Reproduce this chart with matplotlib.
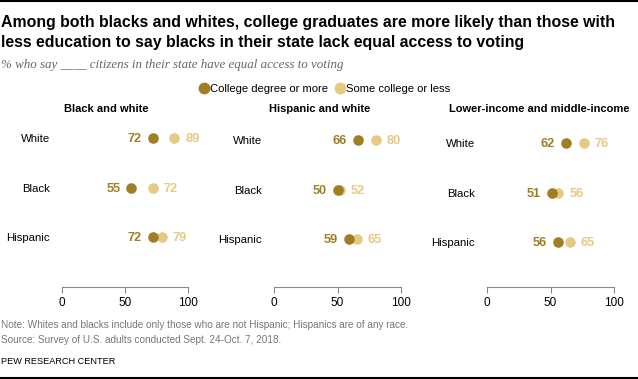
import matplotlib
matplotlib.use('Agg')
import matplotlib.pyplot as plt
from matplotlib.lines import Line2D

# dados
groups = ['White', 'Black', 'Hispanic']
panel_titles = ['Black and white', 'Hispanic and white', 'Lower-income and middle-income']
college = [[72, 55, 72], [66, 50, 59], [62, 51, 56]]
some_college = [[89, 72, 79], [80, 52, 65], [76, 56, 65]]
ticks = [0, 50, 100]

dark = '#A07E22'
light = '#E6CA83'
W, H = 638, 379

plt.rcParams['font.family'] = ['Liberation Sans', 'DejaVu Sans']

fig = plt.figure(figsize=(W / 100, H / 100), dpi=100)

def px(x0, y0, x1, y1):
    # converte coordenadas em pixels (topo-esquerda) para fracao da figura
    return [x0 / W, 1 - y1 / H, (x1 - x0) / W, (y1 - y0) / H]

# posicoes dos paineis (x do 0, x do 100, deslocamento vertical, x do titulo)
panels = [(62, 188, 0, 64), (274, 401, 2, 269), (487, 614, 5, 449)]

for k, (x0, x1, dy, tx) in enumerate(panels):
    ax = fig.add_axes(px(x0, 120, x1, 287))
    ypos = [2, 1, 0]
    ax.scatter(college[k], ypos, s=58, color=dark, zorder=3, linewidths=0)
    ax.scatter(some_college[k], ypos, s=58, color=light, zorder=2, linewidths=0)
    for c, s, y in zip(college[k], some_college[k], ypos):
        ax.annotate(str(c), (c, y), xytext=(-8, -0.5), textcoords='offset points',
                    ha='right', va='center', color=dark, fontsize=9.2, fontweight='bold')
        ax.annotate(str(s), (s, y), xytext=(8, -0.5), textcoords='offset points',
                    ha='left', va='center', color=light, fontsize=9.2, fontweight='bold')
    off = dy / 49.5
    ax.set_ylim(-1.0 + off, 2.37 + off)
    ax.set_xlim(0, 100)
    ax.set_xticks(ticks)
    ax.set_xticklabels([str(t) for t in ticks], fontsize=8.5)
    ax.set_yticks(ypos)
    ax.set_yticklabels(groups, fontsize=8.2)
    ax.tick_params(axis='y', length=0, pad=8.5)
    ax.tick_params(axis='x', length=4, color='#888888', pad=3)
    for sp in ['top', 'right', 'left']:
        ax.spines[sp].set_visible(False)
    ax.spines['bottom'].set_color('#888888')
    fig.text(tx / W, 1 - 109 / H, panel_titles[k], fontsize=8, fontweight='bold',
             ha='left', va='center')

# titulo e subtitulo
fig.text(1 / W, 1 - 22 / H, 'Among both blacks and whites, college graduates are more likely than those with',
         fontsize=11.45, fontweight='bold', ha='left', va='center')
fig.text(1 / W, 1 - 42 / H, 'less education to say blacks in their state lack equal access to voting',
         fontsize=11.45, fontweight='bold', ha='left', va='center')
fig.text(1 / W, 1 - 65 / H, '% who say ____ citizens in their state have equal access to voting',
         fontsize=9.4, style='italic', family='Liberation Serif', color='#666666', ha='left', va='center')

# legenda
handles = [Line2D([], [], marker='o', ls='', color=dark, markersize=7.5),
           Line2D([], [], marker='o', ls='', color=light, markersize=7.5)]
fig.legend(handles, ['College degree or more', 'Some college or less'], loc='center',
           bbox_to_anchor=(324 / W, 1 - 89 / H), ncol=2, frameon=False, fontsize=8.1,
           handletextpad=0.0, columnspacing=0.6, handlelength=1.0)

# notas
fig.text(1 / W, 1 - 325 / H, 'Note: Whites and blacks include only those who are not Hispanic; Hispanics are of any race.',
         fontsize=7.2, color='#777777', ha='left', va='center')
fig.text(1 / W, 1 - 340 / H, 'Source: Survey of U.S. adults conducted Sept. 24-Oct. 7, 2018.',
         fontsize=7.2, color='#777777', ha='left', va='center')
fig.text(1 / W, 1 - 361 / H, 'PEW RESEARCH CENTER', fontsize=6.6, color='black', ha='left', va='center')

# linhas de borda
fig.add_artist(Line2D([0, 1], [1 - 0.5 / H, 1 - 0.5 / H], color='black', lw=1.5))
fig.add_artist(Line2D([0, 1], [1 - 377.5 / H, 1 - 377.5 / H], color='black', lw=1.5))

fig.savefig('out.png', dpi=100)
